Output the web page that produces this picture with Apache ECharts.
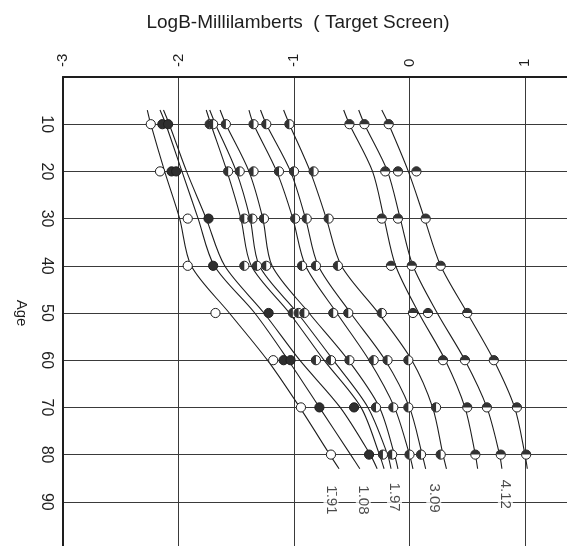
<!DOCTYPE html>
<html><head><meta charset="utf-8">
<script src="https://cdn.jsdelivr.net/npm/echarts/dist/echarts.min.js"></script>
<style>html,body{margin:0;padding:0;background:#fff}#c{width:567px;height:546px}</style>
</head><body><div id="c"></div>
<script>
// ---- data (x = log B millilamberts, y = age) ----
const xTicks = [-3, -2, -1, 0, 1];
const ageTicks = [10, 20, 30, 40, 50, 60, 70, 80, 90];
const pointAges = [10, 20, 30, 40, 50, 60, 70, 80];
const curveAges = [7, 10, 20, 30, 40, 50, 60, 70, 80, 83];

const c1Points  = [-2.24, -2.16, -1.92, -1.92, -1.68, -1.18, -0.94, -0.68];
const c1Curve   = [-2.27, -2.24, -2.12, -1.99, -1.89, -1.56, -1.23, -0.95, -0.69, -0.61];
const c2Points  = [-2.14, -2.06, -1.74, -1.70, -1.22, -1.09, -0.78, -0.35];
const c2Curve   = [-2.16, -2.11, -1.97, -1.83, -1.69, -1.34, -1.05, -0.78, -0.51, -0.43];
const c3Points  = [-2.09, -2.02, null, null, null, -1.03, -0.48, null];
const c3Curve   = [-2.13, -2.08, -1.93, -1.76, -1.60, -1.26, -0.95, -0.60, -0.34, -0.28];
const c4Points  = [-1.73, -1.57, -1.43, -1.43, -1.01, -0.81, -0.29, -0.23];
const c4Curve   = [-1.76, -1.72, -1.58, -1.46, -1.37, -1.04, -0.74, -0.42, -0.26, -0.22];
const c5Points  = [-1.70, -1.47, -1.36, -1.32, -0.96, -0.68, null, -0.15];
const c5Curve   = [-1.73, -1.68, -1.50, -1.38, -1.30, -0.97, -0.66, -0.36, -0.19, -0.16];
const c6Points  = [-1.59, -1.35, -1.26, -1.24, -0.91, -0.52, null, null];
const c6Curve   = [-1.64, -1.59, -1.39, -1.27, -1.19, -0.87, -0.53, -0.26, -0.13, -0.10];
const c7Points  = [-1.35, -1.13, -0.99, -0.93, -0.66, -0.31, -0.14, 0.00];
const c7Curve   = [-1.39, -1.35, -1.15, -1.01, -0.90, -0.63, -0.35, -0.13, 0.00, 0.03];
const c8Points  = [-1.24, -1.00, -0.89, -0.81, -0.53, -0.19, -0.01, 0.10];
const c8Curve   = [-1.29, -1.24, -1.03, -0.90, -0.79, -0.51, -0.21, 0.00, 0.11, 0.14];
const c9Points  = [-1.04, -0.83, -0.70, -0.62, -0.24, -0.01, 0.23, 0.27];
const c9Curve   = [-1.09, -1.04, -0.86, -0.72, -0.59, -0.27, 0.02, 0.20, 0.29, 0.32];
const c10Points = [-0.52, -0.21, -0.24, -0.16, 0.03, 0.29, 0.50, 0.57];
const c10Curve  = [-0.57, -0.52, -0.32, -0.22, -0.12, 0.08, 0.31, 0.48, 0.57, 0.59];
const c11Points = [-0.39, -0.10, -0.10, 0.02, 0.16, 0.48, 0.67, 0.79];
const c11Curve  = [-0.44, -0.39, -0.19, -0.08, 0.03, 0.24, 0.48, 0.67, 0.78, 0.80];
const c12Points = [-0.18, 0.06, 0.14, 0.27, 0.50, 0.73, 0.93, 1.01];
const c12Curve  = [-0.24, -0.18, -0.01, 0.13, 0.27, 0.50, 0.73, 0.91, 1.00, 1.02];

const curveLabels   = ['1\u0304.91', '1.08', '1.97', '3.09', '4.12'];
const curveLabelX   = [-0.68, -0.40, -0.13, 0.21, 0.83];
const curveLabelAge = [89.6, 89.6, 89.0, 89.2, 88.4];

const titleText = 'LogB-Millilamberts  ( Target Screen)';
const yName = 'Age';

// ---- build ----
const curves = [
  [c1Points, c1Curve, 'open'], [c2Points, c2Curve, 'dark'], [c3Points, c3Curve, 'dark'],
  [c4Points, c4Curve, 'halfL'], [c5Points, c5Curve, 'halfL'], [c6Points, c6Curve, 'halfL'],
  [c7Points, c7Curve, 'halfL'], [c8Points, c8Curve, 'halfL'], [c9Points, c9Curve, 'halfL'],
  [c10Points, c10Curve, 'halfT'], [c11Points, c11Curve, 'halfT'], [c12Points, c12Curve, 'halfT']
];
const INK = '#1e1e1e';
const FONT = 'Liberation Sans';

function markerRender(kind) {
  return function (params, api) {
    const p = api.coord([api.value(0), api.value(1)]);
    const r = 4.6;
    const kids = [{
      type: 'circle', shape: {cx: p[0], cy: p[1], r: r},
      style: {fill: kind === 'dark' ? '#2e2e2e' : '#fff', stroke: INK, lineWidth: 1}
    }];
    if (kind === 'halfL' || kind === 'halfT') {
      const s = kind === 'halfL' ? Math.PI / 2 : Math.PI;
      kids.push({
        type: 'sector',
        shape: {cx: p[0], cy: p[1], r0: 0, r: r, startAngle: s, endAngle: s + Math.PI, clockwise: true},
        style: {fill: '#333'}
      });
    }
    return {type: 'group', children: kids};
  };
}

const series = [];
curves.forEach(function (c, i) {
  series.push({
    type: 'line', name: 'curve' + i, smooth: 0.3, symbol: 'none', silent: true,
    lineStyle: {color: INK, width: 1.1}, z: 2,
    data: curveAges.map(function (a, k) { return [c[1][k], a]; })
  });
});
curves.forEach(function (c, i) {
  const d = [];
  pointAges.forEach(function (a, k) { if (c[0][k] !== null) d.push([c[0][k], a]); });
  series.push({
    type: 'custom', name: 'pts' + i, renderItem: markerRender(c[2]), clip: false, z: 5,
    encode: {x: 0, y: 1}, data: d
  });
});
series.push({
  type: 'scatter', symbolSize: 1, z: 6, silent: true,
  itemStyle: {color: 'rgba(0,0,0,0)'},
  data: curveLabels.map(function (t, k) { return {value: [curveLabelX[k], curveLabelAge[k]], name: t}; }),
  label: {
    show: true, position: 'inside', rotate: -90, formatter: function (p) { return p.name; },
    fontFamily: FONT, fontSize: 15, color: INK, backgroundColor: '#fff', padding: [0, 2]
  }
});

const chart = echarts.init(document.getElementById('c'), null, {renderer: 'canvas'});
chart.setOption({
  animation: false,
  backgroundColor: '#fff',
  title: {
    text: titleText, left: 293, top: 8, textAlign: 'center',
    textStyle: {fontFamily: FONT, fontSize: 19, fontWeight: 'normal', color: INK}
  },
  grid: {left: 63, top: 77, width: 577.5, height: 472, containLabel: false, outerBoundsMode: 'none'},
  xAxis: {
    type: 'value', position: 'top', min: -3, max: 2, interval: 1,
    axisLine: {show: true, onZero: false, lineStyle: {color: INK, width: 2}},
    axisTick: {show: false},
    splitLine: {show: true, lineStyle: {color: '#3a3a3a', width: 1}},
    axisLabel: {
      rotate: -90, margin: 10, fontFamily: FONT, fontSize: 15, color: INK,
      formatter: function (v) { return xTicks.indexOf(v) >= 0 ? String(v) : ''; }
    }
  },
  yAxis: {
    type: 'value', inverse: true, min: 0, max: 100, interval: 10,
    name: yName, nameLocation: 'middle', nameRotate: -90, nameGap: 34,
    nameTextStyle: {fontFamily: FONT, fontSize: 15, color: INK},
    axisLine: {show: true, onZero: false, lineStyle: {color: INK, width: 2}},
    axisTick: {show: false},
    splitLine: {show: true, lineStyle: {color: '#3a3a3a', width: 1}},
    axisLabel: {
      rotate: -90, margin: 9, fontFamily: FONT, fontSize: 16, color: INK,
      formatter: function (v) { return ageTicks.indexOf(v) >= 0 ? String(v) : ''; }
    }
  },
  series: series
});
</script></body></html>
